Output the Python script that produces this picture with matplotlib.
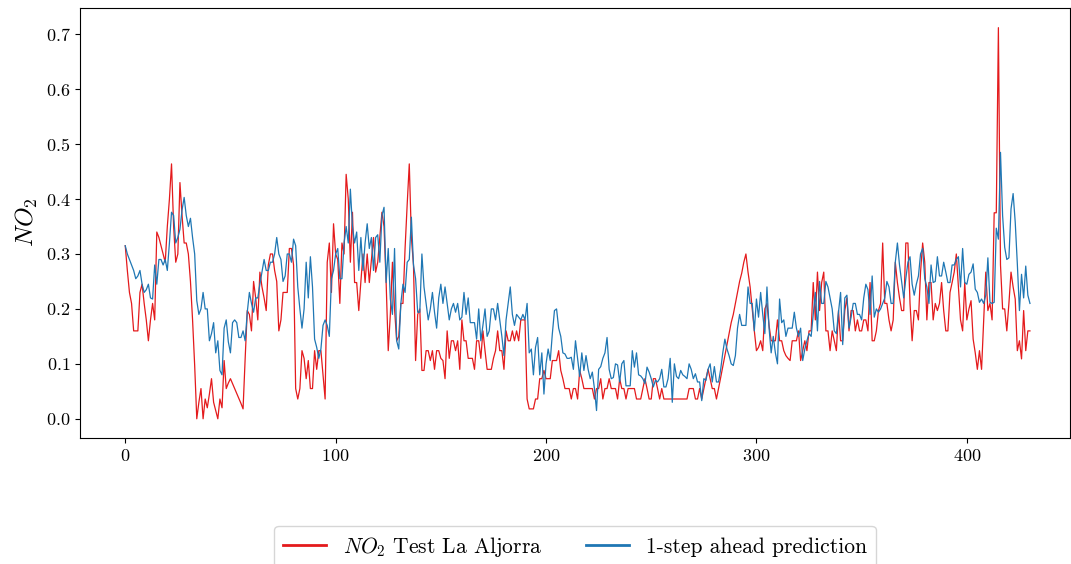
import numpy as np
import matplotlib
matplotlib.use('Agg')
import matplotlib.pyplot as plt

plt.rcParams['font.family'] = 'serif'
plt.rcParams['font.serif'] = ['cmr10']
plt.rcParams['mathtext.fontset'] = 'cm'
plt.rcParams['axes.formatter.use_mathtext'] = True

# NO2 test series (La Aljorra)
test_no2 = [
    0.315, 0.27, 0.23, 0.21, 0.16, 0.16, 0.16, 0.23, 0.245, 0.21,
    0.18, 0.142, 0.18, 0.21, 0.18, 0.34, 0.33, 0.315, 0.30, 0.285,
    0.35, 0.40, 0.464, 0.35, 0.285, 0.30, 0.43, 0.37, 0.32, 0.32,
    0.30, 0.25, 0.18, 0.097, 0.0, 0.03, 0.055, 0.0, 0.036, 0.02,
    0.045, 0.073, 0.03, 0.015, 0.0, 0.036, 0.02, 0.106, 0.055, 0.065,
    0.073, 0.064, 0.055, 0.046, 0.037, 0.028, 0.018, 0.11, 0.197, 0.19,
    0.16, 0.25, 0.22, 0.18, 0.267, 0.24, 0.22, 0.197, 0.28, 0.30,
    0.30, 0.27, 0.25, 0.16, 0.18, 0.23, 0.23, 0.23, 0.31, 0.31,
    0.28, 0.055, 0.036, 0.055, 0.124, 0.11, 0.073, 0.106, 0.055, 0.055,
    0.124, 0.09, 0.124, 0.124, 0.08, 0.036, 0.285, 0.32, 0.23, 0.355,
    0.30, 0.29, 0.21, 0.32, 0.30, 0.445, 0.40, 0.285, 0.376, 0.248,
    0.248, 0.197, 0.25, 0.30, 0.248, 0.30, 0.248, 0.29, 0.33, 0.267,
    0.285, 0.33, 0.376, 0.35, 0.248, 0.124, 0.19, 0.285, 0.2, 0.142,
    0.15, 0.21, 0.21, 0.31, 0.39, 0.464, 0.33, 0.28, 0.106, 0.19,
    0.2, 0.088, 0.088, 0.124, 0.124, 0.106, 0.124, 0.09, 0.124, 0.124,
    0.11, 0.106, 0.073, 0.16, 0.11, 0.142, 0.142, 0.124, 0.142, 0.09,
    0.18, 0.142, 0.142, 0.11, 0.11, 0.11, 0.09, 0.142, 0.142, 0.11,
    0.16, 0.124, 0.09, 0.09, 0.09, 0.11, 0.124, 0.16, 0.124, 0.124,
    0.09, 0.16, 0.142, 0.142, 0.16, 0.142, 0.16, 0.142, 0.18, 0.18,
    0.18, 0.036, 0.018, 0.018, 0.018, 0.036, 0.036, 0.073, 0.073, 0.088,
    0.073, 0.073, 0.073, 0.106, 0.106, 0.106, 0.124, 0.088, 0.073, 0.055,
    0.055, 0.055, 0.036, 0.055, 0.055, 0.036, 0.088, 0.073, 0.055, 0.055,
    0.055, 0.055, 0.055, 0.036, 0.055, 0.055, 0.073, 0.036, 0.055, 0.055,
    0.073, 0.055, 0.055, 0.055, 0.036, 0.073, 0.055, 0.055, 0.036, 0.055,
    0.055, 0.055, 0.055, 0.036, 0.036, 0.036, 0.055, 0.073, 0.055, 0.036,
    0.036, 0.073, 0.073, 0.055, 0.036, 0.055, 0.036, 0.036, 0.036, 0.036,
    0.036, 0.036, 0.036, 0.036, 0.036, 0.036, 0.036, 0.036, 0.055, 0.055,
    0.055, 0.036, 0.036, 0.055, 0.036, 0.055, 0.073, 0.09, 0.073, 0.055,
    0.055, 0.036, 0.055, 0.075, 0.095, 0.115, 0.135, 0.155, 0.175, 0.19,
    0.21, 0.23, 0.25, 0.265, 0.285, 0.30, 0.267, 0.24, 0.2, 0.16,
    0.124, 0.13, 0.142, 0.124, 0.2, 0.21, 0.17, 0.142, 0.142, 0.142,
    0.18, 0.142, 0.142, 0.124, 0.115, 0.11, 0.106, 0.142, 0.142, 0.142,
    0.16, 0.106, 0.124, 0.142, 0.124, 0.16, 0.16, 0.248, 0.18, 0.267,
    0.197, 0.248, 0.267, 0.16, 0.16, 0.124, 0.16, 0.142, 0.124, 0.197,
    0.142, 0.142, 0.197, 0.22, 0.16, 0.197, 0.197, 0.16, 0.18, 0.16,
    0.16, 0.18, 0.18, 0.16, 0.248, 0.142, 0.142, 0.16, 0.197, 0.21,
    0.32, 0.21, 0.21, 0.18, 0.16, 0.18, 0.285, 0.248, 0.22, 0.197,
    0.197, 0.32, 0.32, 0.21, 0.142, 0.197, 0.197, 0.18, 0.267, 0.32,
    0.285, 0.18, 0.248, 0.248, 0.18, 0.21, 0.197, 0.21, 0.248, 0.197,
    0.16, 0.16, 0.23, 0.248, 0.267, 0.30, 0.24, 0.18, 0.16, 0.248,
    0.18, 0.2, 0.215, 0.145, 0.12, 0.09, 0.124, 0.09, 0.18, 0.267,
    0.197, 0.21, 0.18, 0.375, 0.375, 0.712, 0.28, 0.2, 0.2, 0.16,
    0.21, 0.267, 0.24, 0.218, 0.124, 0.142, 0.109, 0.197, 0.124, 0.16,
    0.16,
]

# 1-step ahead prediction
pred_no2 = [
    0.315, 0.30, 0.29, 0.28, 0.27, 0.255, 0.26, 0.27, 0.245, 0.23,
    0.235, 0.245, 0.22, 0.218, 0.28, 0.245, 0.29, 0.29, 0.28, 0.29,
    0.27, 0.32, 0.376, 0.37, 0.32, 0.33, 0.345, 0.38, 0.403, 0.37,
    0.35, 0.365, 0.33, 0.30, 0.215, 0.19, 0.2, 0.23, 0.2, 0.2,
    0.142, 0.155, 0.175, 0.12, 0.142, 0.088, 0.08, 0.165, 0.18, 0.14,
    0.12, 0.175, 0.18, 0.175, 0.148, 0.148, 0.16, 0.142, 0.194, 0.23,
    0.21, 0.194, 0.22, 0.22, 0.245, 0.267, 0.29, 0.27, 0.27, 0.285,
    0.285, 0.30, 0.33, 0.30, 0.29, 0.25, 0.26, 0.30, 0.30, 0.285,
    0.327, 0.315, 0.24, 0.2, 0.165, 0.2, 0.285, 0.22, 0.295, 0.24,
    0.145, 0.13, 0.11, 0.127, 0.17, 0.18, 0.17, 0.15, 0.255, 0.27,
    0.30, 0.31, 0.255, 0.255, 0.32, 0.35, 0.32, 0.418, 0.35, 0.32,
    0.34, 0.27, 0.33, 0.27, 0.32, 0.355, 0.31, 0.33, 0.27, 0.33,
    0.335, 0.285, 0.37, 0.385, 0.248, 0.31, 0.218, 0.19, 0.31, 0.142,
    0.127, 0.21, 0.245, 0.23, 0.285, 0.29, 0.367, 0.28, 0.255, 0.194,
    0.194, 0.30, 0.24, 0.21, 0.18, 0.2, 0.23, 0.194, 0.165, 0.22,
    0.245, 0.21, 0.24, 0.21, 0.18, 0.2, 0.21, 0.194, 0.21, 0.18,
    0.185, 0.23, 0.19, 0.22, 0.175, 0.175, 0.175, 0.145, 0.2, 0.142,
    0.17, 0.2, 0.15, 0.16, 0.2, 0.2, 0.18, 0.21, 0.18, 0.15,
    0.115, 0.18, 0.21, 0.24, 0.19, 0.17, 0.19, 0.185, 0.18, 0.19,
    0.18, 0.21, 0.12, 0.127, 0.08, 0.13, 0.148, 0.08, 0.12, 0.045,
    0.1, 0.127, 0.106, 0.155, 0.197, 0.2, 0.165, 0.15, 0.12, 0.118,
    0.11, 0.11, 0.112, 0.09, 0.142, 0.11, 0.077, 0.12, 0.088, 0.115,
    0.09, 0.073, 0.085, 0.055, 0.015, 0.09, 0.095, 0.11, 0.12, 0.148,
    0.09, 0.073, 0.075, 0.1, 0.098, 0.067, 0.1, 0.106, 0.06, 0.06,
    0.06, 0.124, 0.094, 0.12, 0.08, 0.078, 0.073, 0.064, 0.094, 0.085,
    0.073, 0.058, 0.07, 0.067, 0.073, 0.09, 0.058, 0.058, 0.073, 0.11,
    0.03, 0.1, 0.077, 0.073, 0.088, 0.08, 0.077, 0.073, 0.1, 0.09,
    0.073, 0.082, 0.067, 0.067, 0.033, 0.073, 0.07, 0.09, 0.1, 0.067,
    0.095, 0.067, 0.067, 0.09, 0.12, 0.145, 0.127, 0.115, 0.1, 0.097,
    0.115, 0.165, 0.19, 0.17, 0.17, 0.17, 0.24, 0.21, 0.21, 0.16,
    0.218, 0.185, 0.23, 0.19, 0.155, 0.24, 0.165, 0.12, 0.15, 0.12,
    0.1, 0.218, 0.175, 0.18, 0.15, 0.165, 0.165, 0.165, 0.194, 0.165,
    0.15, 0.165, 0.106, 0.127, 0.142, 0.155, 0.15, 0.19, 0.23, 0.16,
    0.25, 0.21, 0.21, 0.25, 0.24, 0.22, 0.2, 0.16, 0.155, 0.194,
    0.23, 0.135, 0.22, 0.225, 0.165, 0.185, 0.21, 0.21, 0.19, 0.19,
    0.18, 0.22, 0.245, 0.235, 0.19, 0.26, 0.185, 0.2, 0.194, 0.2,
    0.21, 0.22, 0.25, 0.24, 0.21, 0.21, 0.285, 0.32, 0.28, 0.25,
    0.22, 0.255, 0.285, 0.295, 0.245, 0.225, 0.245, 0.26, 0.30, 0.31,
    0.255, 0.24, 0.21, 0.28, 0.248, 0.25, 0.295, 0.26, 0.26, 0.285,
    0.267, 0.248, 0.248, 0.28, 0.28, 0.29, 0.295, 0.24, 0.31, 0.248,
    0.245, 0.263, 0.267, 0.282, 0.236, 0.23, 0.212, 0.218, 0.21, 0.225,
    0.293, 0.212, 0.21, 0.212, 0.347, 0.327, 0.485, 0.37, 0.312, 0.29,
    0.293, 0.382, 0.41, 0.358, 0.282, 0.197, 0.263, 0.22, 0.278, 0.225,
    0.21,
]

fig = plt.figure(figsize=(10.71, 5.64), dpi=100)
ax = fig.add_axes([0.0747, 0.2234, 0.9243, 0.7626])

ax.plot(range(len(test_no2)), test_no2, color='#e41a1c', lw=0.9,
        label=r'$NO_2$ Test La Aljorra')
ax.plot(range(len(pred_no2)), pred_no2, color='#1f77b4', lw=0.9,
        label='1-step ahead prediction')

ax.set_xlim(-21.5, 449)
ax.set_ylim(-0.035, 0.748)
ax.set_ylabel(r'$NO_2$', fontsize=18)
ax.tick_params(labelsize=13)
ax.set_xticks([0, 100, 200, 300, 400])
ax.set_yticks([0.0, 0.1, 0.2, 0.3, 0.4, 0.5, 0.6, 0.7])

leg = ax.legend(loc='upper center', bbox_to_anchor=(0.5, -0.18), ncol=2,
                fontsize=15.5, frameon=True, handlelength=2.0, columnspacing=2.0)
for line in leg.get_lines():
    line.set_linewidth(2.0)

fig.savefig('out.png', dpi=100)
